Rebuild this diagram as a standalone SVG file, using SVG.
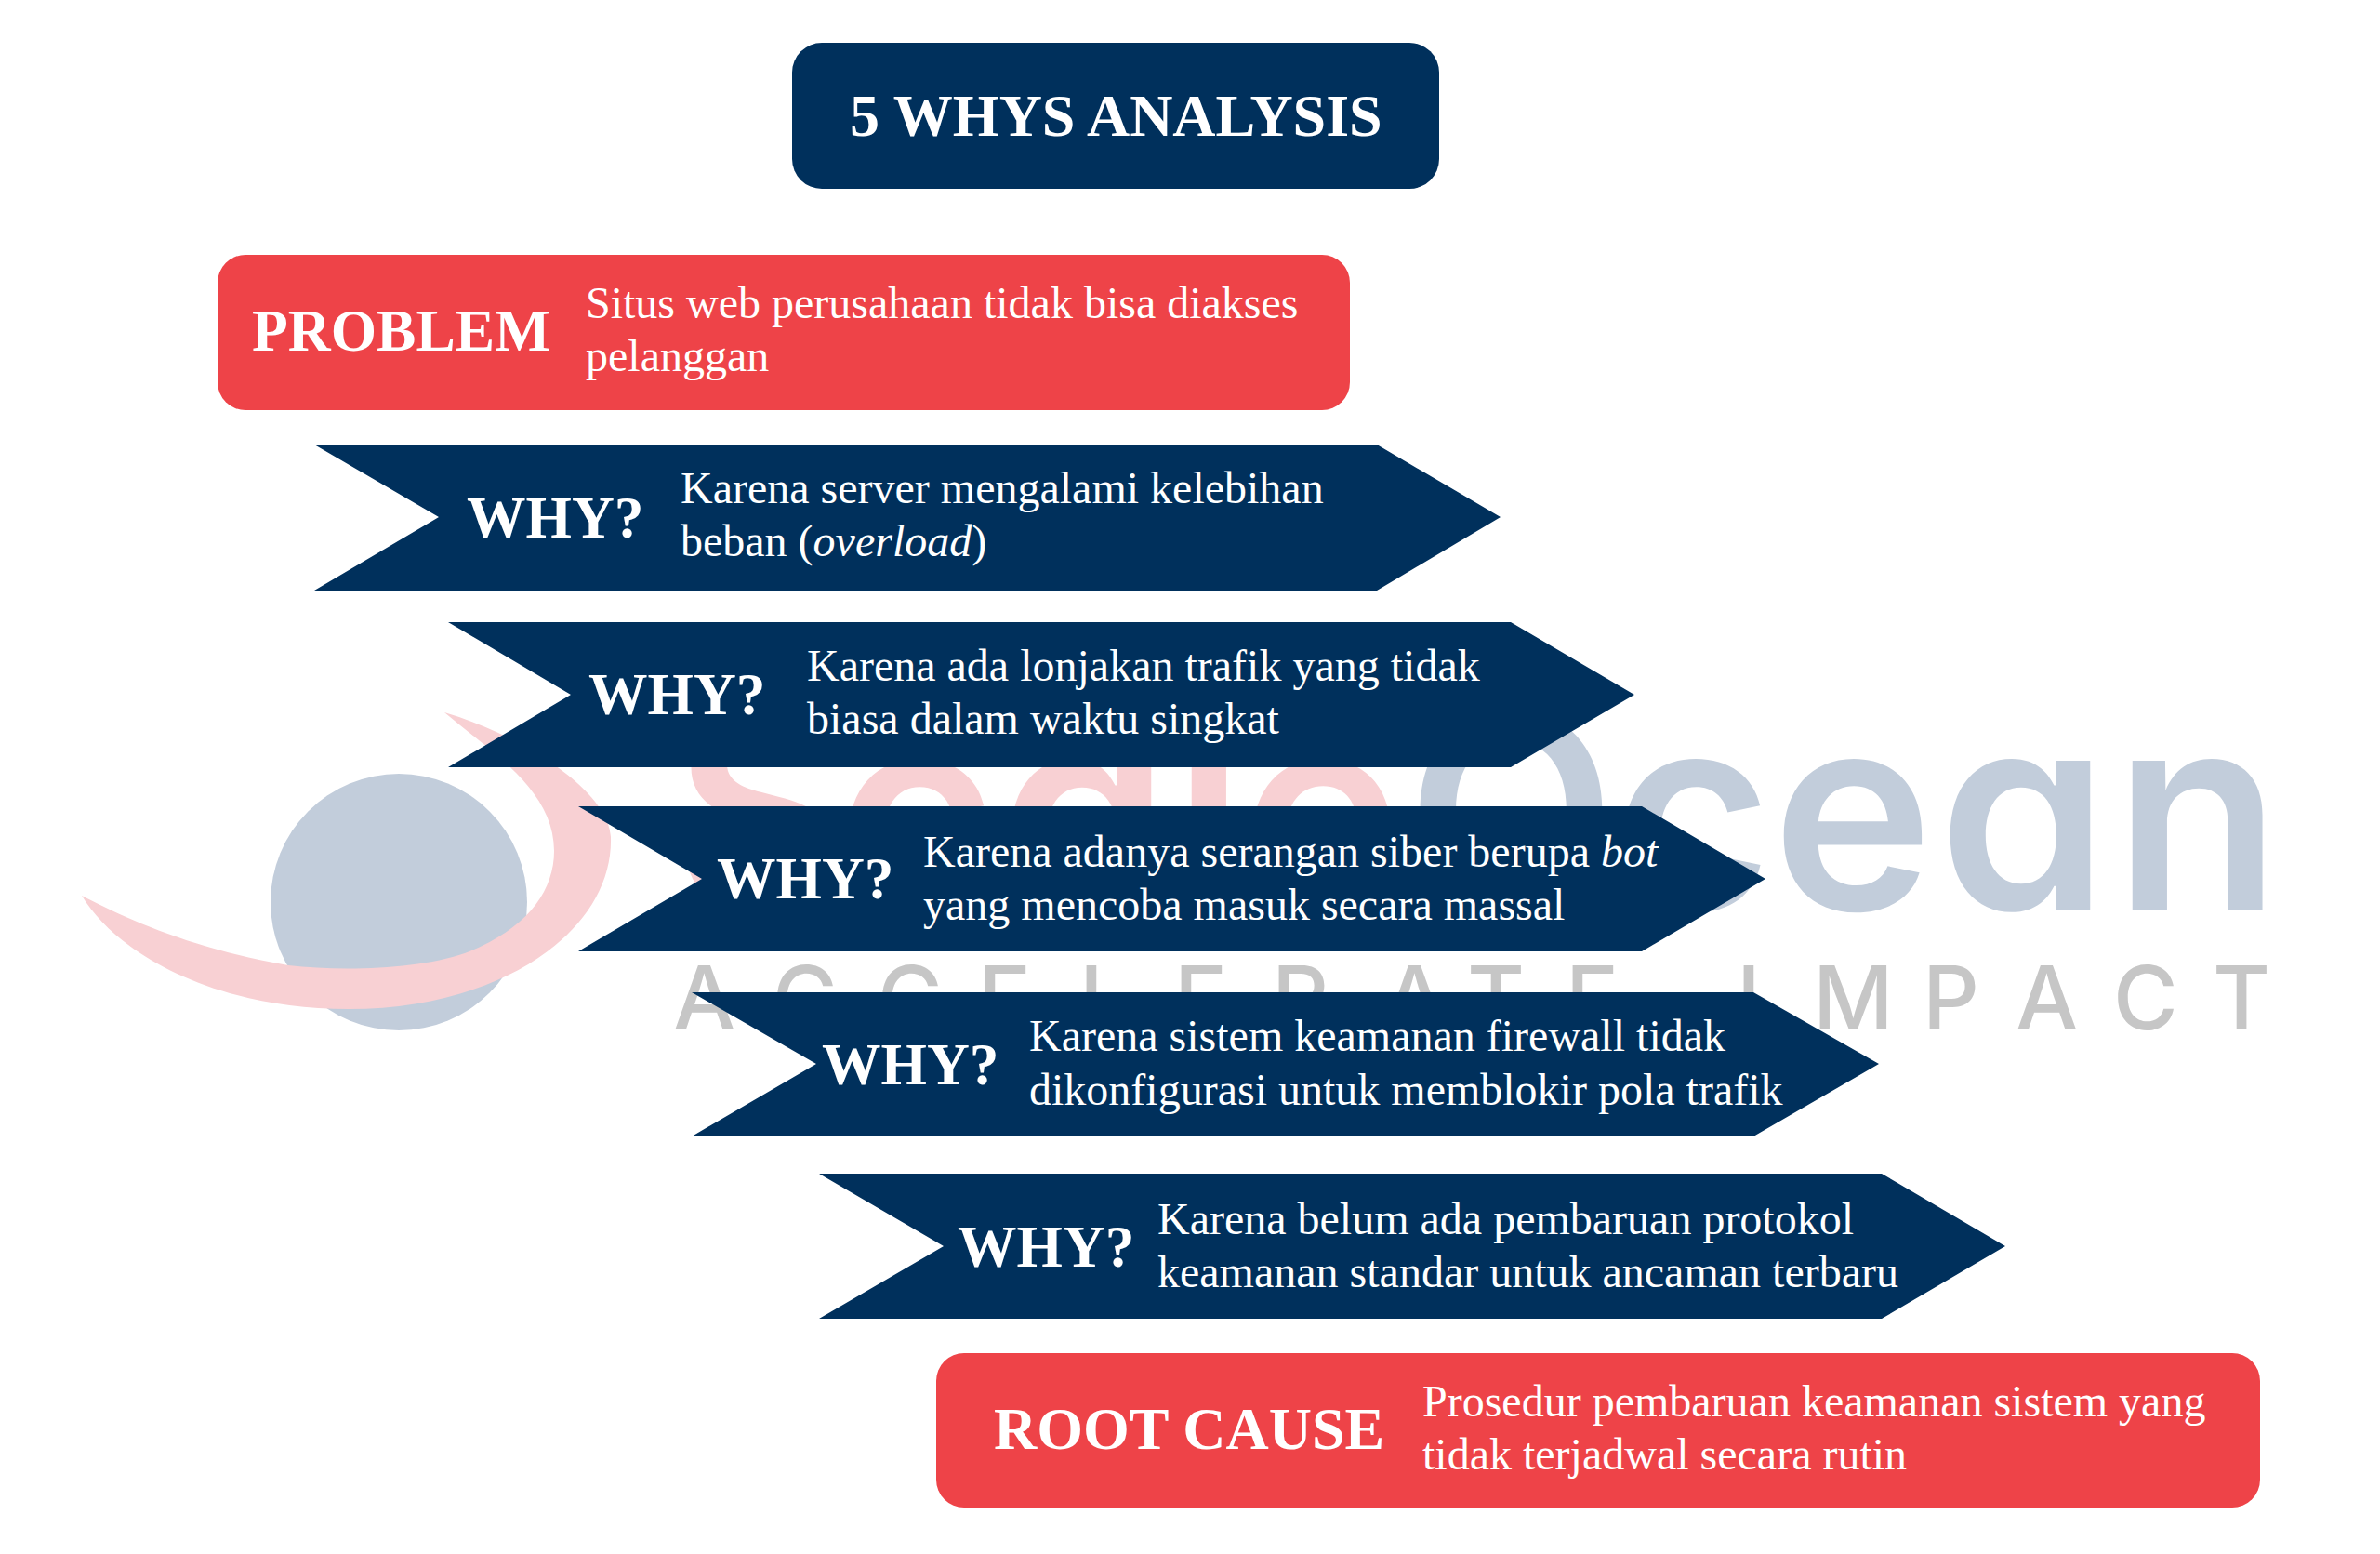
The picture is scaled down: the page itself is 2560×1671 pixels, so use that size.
<svg xmlns="http://www.w3.org/2000/svg" width="2560" height="1671" viewBox="0 0 2560 1671">
<style>
text{font-family:"Liberation Serif","Times New Roman",serif;fill:#fff}
.h{font-weight:700;font-size:63.5px}
.t{font-weight:700;font-size:64px}
.b{font-size:48px}
.navy{fill:#00305c}
.red{fill:#ee4348}
text.wm{font-family:Inter,"Liberation Sans",Arial,sans-serif;font-weight:600;font-size:293px;font-feature-settings:"cv11"}
text.sub{font-family:Inter,"Liberation Sans",Arial,sans-serif;font-weight:500;font-size:95px;fill:#c6c6c6}
</style>
<rect width="2560" height="1671" fill="#fff"/>
<g id="watermark">
<circle cx="429" cy="970" r="138" fill="#c2cddb"/>
<path d="M88,963C125,1025 230,1085 375,1085C540,1085 660,1000 657,900C655,850 560,790 478,766C530,810 596,850 596,915C596,960 565,1000 500,1025C450,1042 370,1045 310,1038C204,1020 130,985 88,963Z" fill="#f8d0d3"/>
<text class="wm" x="724 900 1075 1262 1335" y="978" style="fill:#f8d0d3">Scale</text>
<text class="wm" x="1513 1735 1906 2085 2274" y="978" style="fill:#c2cddb">Ocean</text>
<text class="sub" x="724 831 944 1052 1161 1263 1368 1488 1578 1684 1800 1868 1950 2068 2168 2273 2380" y="1107">ACCELERATE IMPACT</text>
</g>
<g id="title"><rect class="navy" x="852" y="46" width="696" height="157" rx="32"/><text class="t" x="914" y="146">5 WHYS ANALYSIS</text></g>
<g id="problem"><rect class="red" x="234" y="274" width="1218" height="167" rx="30"/><text class="h" x="271" y="377">PROBLEM</text><text class="b" x="630" y="342">Situs web perusahaan tidak bisa diakses</text><text class="b" x="630" y="399">pelanggan</text></g>
<g id="why1"><polygon class="navy" points="338,478 1481,478 1614,556 1481,635 338,635 472,556"/><text class="h" x="502" y="578">WHY?</text><text class="b" x="732" y="541">Karena server mengalami kelebihan</text><text class="b" x="732" y="598">beban (<tspan font-style="italic">overload</tspan>)</text></g>
<g id="why2"><polygon class="navy" points="482,669 1625,669 1758,747 1625,825 482,825 614,747"/><text class="h" x="633" y="768">WHY?</text><text class="b" x="868" y="732">Karena ada lonjakan trafik yang tidak</text><text class="b" x="868" y="789">biasa dalam waktu singkat</text></g>
<g id="why3"><polygon class="navy" points="622,867 1766,867 1899,945 1766,1023 622,1023 755,945"/><text class="h" x="771" y="966">WHY?</text><text class="b" x="993" y="932">Karena adanya serangan siber berupa <tspan font-style="italic">bot</tspan></text><text class="b" x="993" y="989">yang mencoba masuk secara massal</text></g>
<g id="why4"><polygon class="navy" points="744,1067 1886,1067 2021,1144 1886,1222 744,1222 878,1144"/><text class="h" x="884" y="1166">WHY?</text><text class="b" x="1107" y="1130">Karena sistem keamanan firewall tidak</text><text class="b" x="1107" y="1188">dikonfigurasi untuk memblokir pola trafik</text></g>
<g id="why5"><polygon class="navy" points="881,1262 2024,1262 2157,1340 2024,1418 881,1418 1015,1340"/><text class="h" x="1030" y="1362">WHY?</text><text class="b" x="1245" y="1327">Karena belum ada pembaruan protokol</text><text class="b" x="1245" y="1384">keamanan standar untuk ancaman terbaru</text></g>
<g id="root-cause"><rect class="red" x="1007" y="1455" width="1424" height="166" rx="30"/><text class="t" x="1069" y="1558">ROOT CAUSE</text><text class="b" x="1530" y="1523">Prosedur pembaruan keamanan sistem yang</text><text class="b" x="1530" y="1580">tidak terjadwal secara rutin</text></g>
</svg>
